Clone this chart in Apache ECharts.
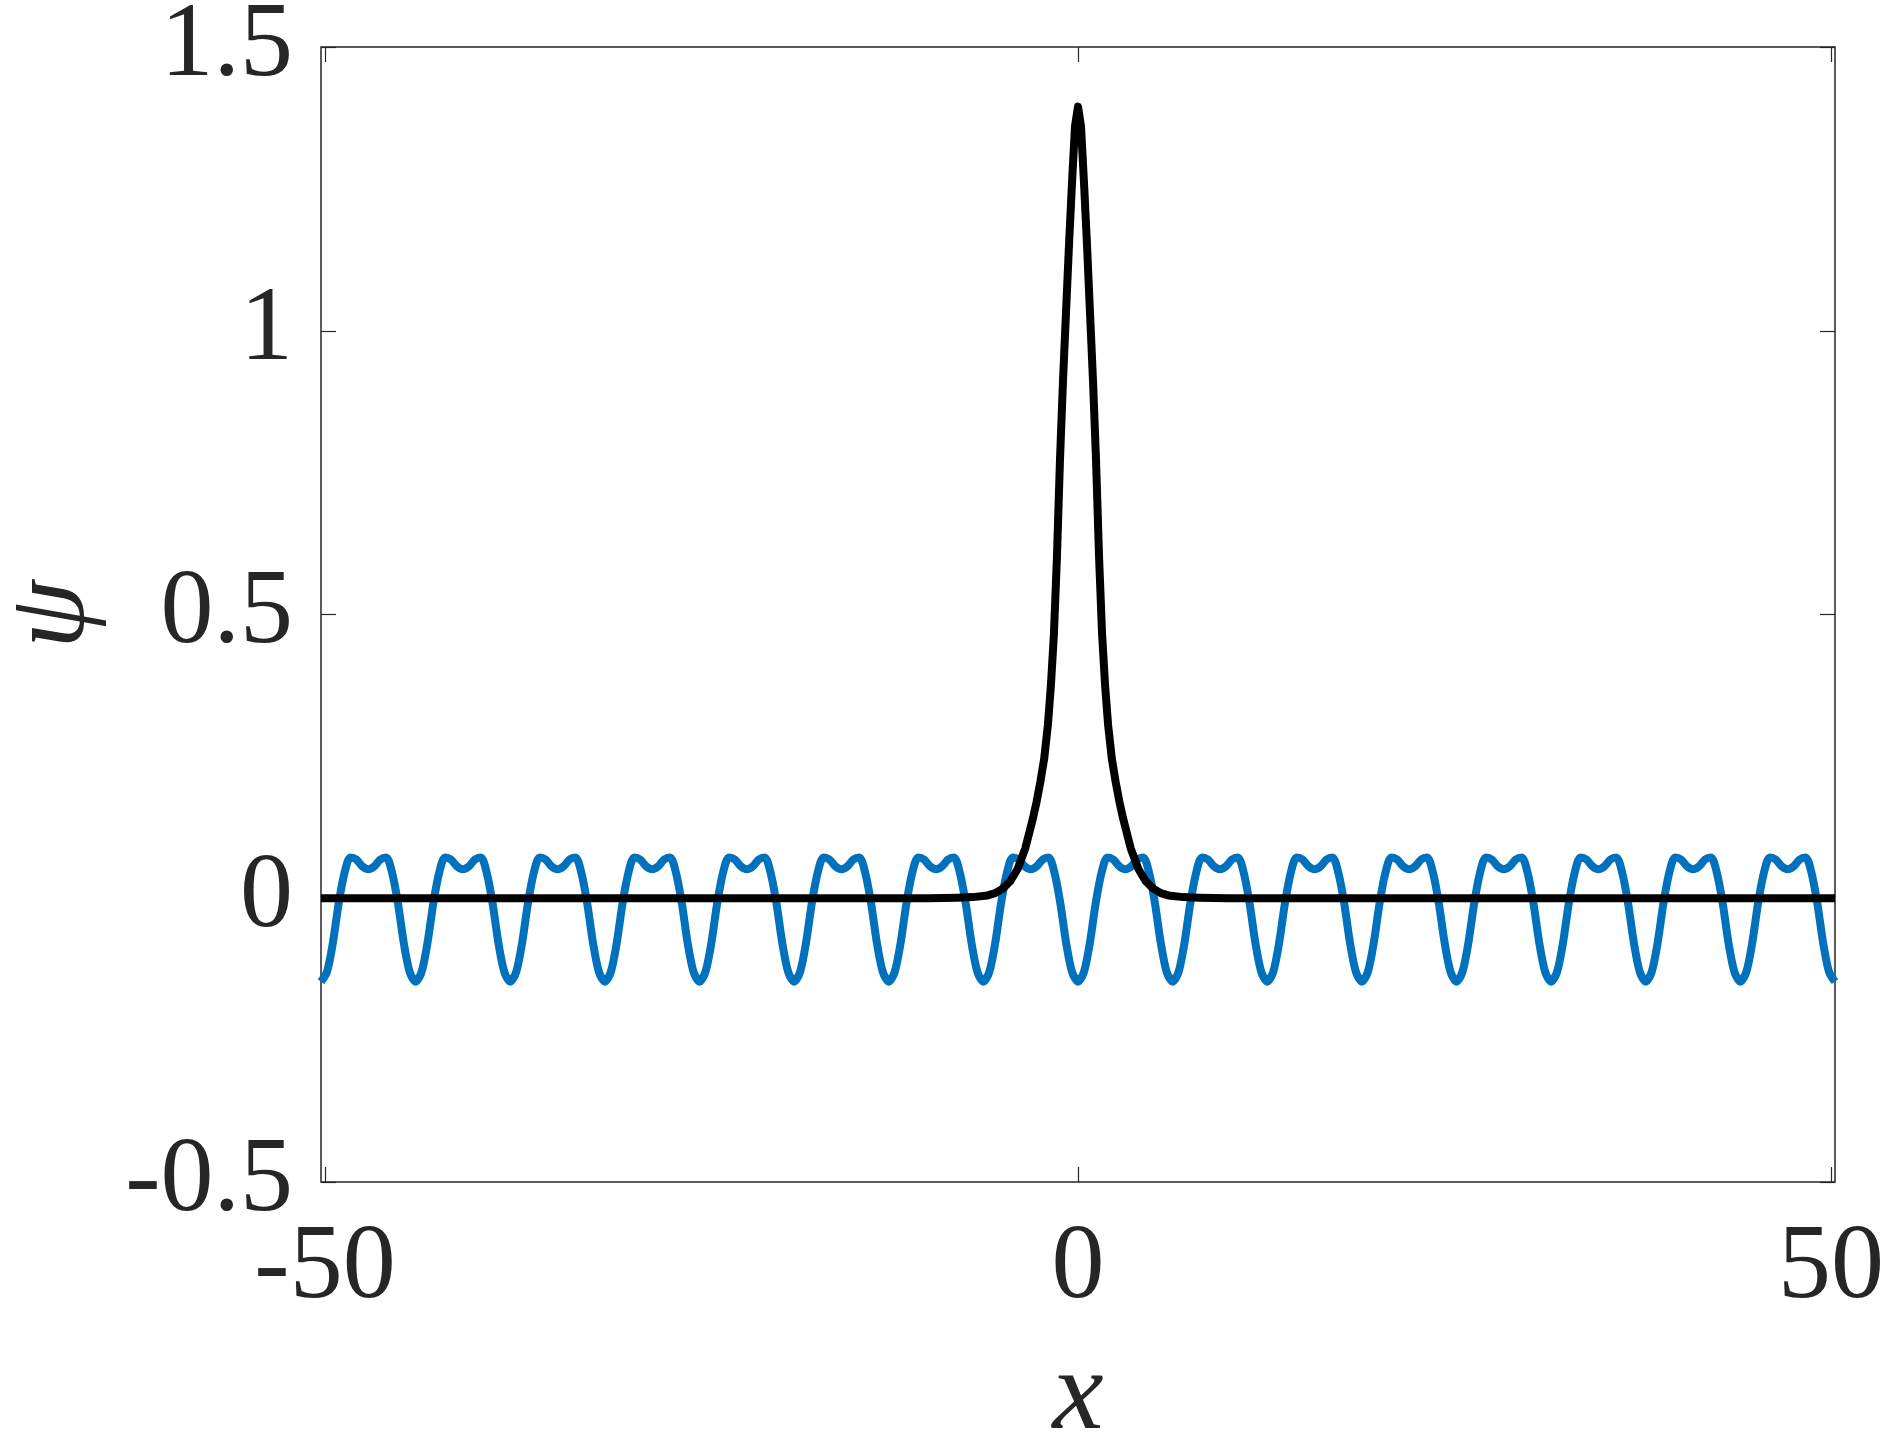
<!DOCTYPE html>
<html>
<head>
<meta charset="utf-8">
<script src="https://cdn.jsdelivr.net/npm/echarts@6/dist/echarts.min.js"></script>
<style>
html,body{margin:0;padding:0;background:#fff;}
#chart{width:1882px;height:1434px;}
</style>
</head>
<body>
<div id="chart"></div>
<script>
// ---- axis ranges & ticks ----
const xMin = -16 * Math.PI, xMax = 16 * Math.PI;
const xTicks = [-50, 0, 50];
const yTicks = [-0.5, 0, 0.5, 1, 1.5];

// ---- black curve (soliton) ----
const blackX = [-50.27, -10, -8, -7, -6, -5.5, -5, -4.5, -4, -3.5, -3, -2.75, -2.5, -2.25, -2, -1.8, -1.6, -1.4, -1.2, -1, -0.8, -0.6, -0.4, -0.2, 0,
                0.2, 0.4, 0.6, 0.8, 1, 1.2, 1.4, 1.6, 1.8, 2, 2.25, 2.5, 2.75, 3, 3.5, 4, 4.5, 5, 5.5, 6, 7, 8, 10, 50.27];
const blackY = [0, 0, 0.001, 0.002, 0.005, 0.009, 0.017, 0.03, 0.052, 0.088, 0.14, 0.17, 0.205, 0.245, 0.305, 0.375, 0.465, 0.6, 0.77, 0.91, 1.03, 1.15, 1.26, 1.36, 1.395,
                1.36, 1.26, 1.15, 1.03, 0.91, 0.77, 0.6, 0.465, 0.375, 0.305, 0.245, 0.205, 0.17, 0.14, 0.088, 0.052, 0.03, 0.017, 0.009, 0.005, 0.002, 0.001, 0, 0];

// ---- blue curve (periodic background), sampled every pi/8 from x = -16*pi ----
const blueStep = Math.PI / 8;
const blueY = [
 -0.147,-0.130,-0.079,-0.008,0.046,0.072,0.068,0.056,0.051,0.056,0.068,0.072,0.046,-0.008,-0.079,-0.130,
 -0.147,-0.130,-0.079,-0.008,0.046,0.072,0.068,0.056,0.051,0.056,0.068,0.072,0.046,-0.008,-0.079,-0.130,
 -0.147,-0.130,-0.079,-0.008,0.046,0.072,0.068,0.056,0.051,0.056,0.068,0.072,0.046,-0.008,-0.079,-0.130,
 -0.147,-0.130,-0.079,-0.008,0.046,0.072,0.068,0.056,0.051,0.056,0.068,0.072,0.046,-0.008,-0.079,-0.130,
 -0.147,-0.130,-0.079,-0.008,0.046,0.072,0.068,0.056,0.051,0.056,0.068,0.072,0.046,-0.008,-0.079,-0.130,
 -0.147,-0.130,-0.079,-0.008,0.046,0.072,0.068,0.056,0.051,0.056,0.068,0.072,0.046,-0.008,-0.079,-0.130,
 -0.147,-0.130,-0.079,-0.008,0.046,0.072,0.068,0.056,0.051,0.056,0.068,0.072,0.046,-0.008,-0.079,-0.130,
 -0.147,-0.130,-0.079,-0.008,0.046,0.072,0.068,0.056,0.051,0.056,0.068,0.072,0.046,-0.008,-0.079,-0.130,
 -0.147,-0.130,-0.079,-0.008,0.046,0.072,0.068,0.056,0.051,0.056,0.068,0.072,0.046,-0.008,-0.079,-0.130,
 -0.147,-0.130,-0.079,-0.008,0.046,0.072,0.068,0.056,0.051,0.056,0.068,0.072,0.046,-0.008,-0.079,-0.130,
 -0.147,-0.130,-0.079,-0.008,0.046,0.072,0.068,0.056,0.051,0.056,0.068,0.072,0.046,-0.008,-0.079,-0.130,
 -0.147,-0.130,-0.079,-0.008,0.046,0.072,0.068,0.056,0.051,0.056,0.068,0.072,0.046,-0.008,-0.079,-0.130,
 -0.147,-0.130,-0.079,-0.008,0.046,0.072,0.068,0.056,0.051,0.056,0.068,0.072,0.046,-0.008,-0.079,-0.130,
 -0.147,-0.130,-0.079,-0.008,0.046,0.072,0.068,0.056,0.051,0.056,0.068,0.072,0.046,-0.008,-0.079,-0.130,
 -0.147,-0.130,-0.079,-0.008,0.046,0.072,0.068,0.056,0.051,0.056,0.068,0.072,0.046,-0.008,-0.079,-0.130,
 -0.147,-0.130,-0.079,-0.008,0.046,0.072,0.068,0.056,0.051,0.056,0.068,0.072,0.046,-0.008,-0.079,-0.130,
 -0.147
];

const xName = 'x';
const yName = 'ψ';

const blueData = blueY.map((v, i) => [xMin + i * blueStep, v]);
const blackData = blackX.map((x, i) => [x, blackY[i]]);

const txt = '#262626';
const font = 'Liberation Serif';
const tickStyle = {color: txt, width: 1.2};

const chart = echarts.init(document.getElementById('chart'), null, {renderer: 'canvas'});
chart.setOption({
  animation: false,
  backgroundColor: '#fff',
  grid: {left: 321, right: 47, top: 47, bottom: 252, show: true, borderColor: txt, borderWidth: 1.5,
         backgroundColor: 'transparent', outerBoundsMode: 'none', containLabel: false},
  xAxis: [{
    type: 'value', min: xMin, max: xMax, position: 'bottom',
    axisLine: {show: false, onZero: false}, splitLine: {show: false},
    axisTick: {show: true, inside: true, length: 15, customValues: xTicks, lineStyle: tickStyle},
    axisLabel: {customValues: xTicks, fontSize: 106, fontFamily: font, color: txt, margin: 34,
      formatter: v => String(v)},
    name: xName, nameLocation: 'middle', nameGap: 158,
    nameTextStyle: {fontFamily: font, fontStyle: 'italic', fontSize: 115, color: txt}
  }, {
    type: 'value', min: xMin, max: xMax, position: 'top',
    axisLine: {show: false, onZero: false}, splitLine: {show: false},
    axisTick: {show: true, inside: true, length: 15, customValues: xTicks, lineStyle: tickStyle},
    axisLabel: {show: false}
  }],
  yAxis: [{
    type: 'value', min: -0.5, max: 1.5, interval: 0.5, position: 'left',
    axisLine: {show: false, onZero: false}, splitLine: {show: false},
    axisTick: {show: true, inside: true, length: 15, lineStyle: tickStyle},
    axisLabel: {fontSize: 106, fontFamily: font, color: txt, margin: 28, padding: [0, 0, 14, 0],
      formatter: v => String(v)},
    name: yName, nameLocation: 'middle', nameGap: 212,
    nameTextStyle: {fontFamily: font, fontStyle: 'italic', fontSize: 110, color: txt}
  }, {
    type: 'value', min: -0.5, max: 1.5, interval: 0.5, position: 'right',
    axisLine: {show: false, onZero: false}, splitLine: {show: false},
    axisTick: {show: true, inside: true, length: 15, lineStyle: tickStyle},
    axisLabel: {show: false}
  }],
  series: [{
    type: 'line', name: 'background', data: blueData, xAxisIndex: 0, yAxisIndex: 0,
    showSymbol: false, smooth: 0.3, lineStyle: {color: '#0072BD', width: 8}, z: 2
  }, {
    type: 'line', name: 'soliton', data: blackData, xAxisIndex: 0, yAxisIndex: 0,
    showSymbol: false, smooth: false, lineStyle: {color: '#000000', width: 8, join: 'round'}, z: 3
  }]
});
</script>
</body>
</html>
